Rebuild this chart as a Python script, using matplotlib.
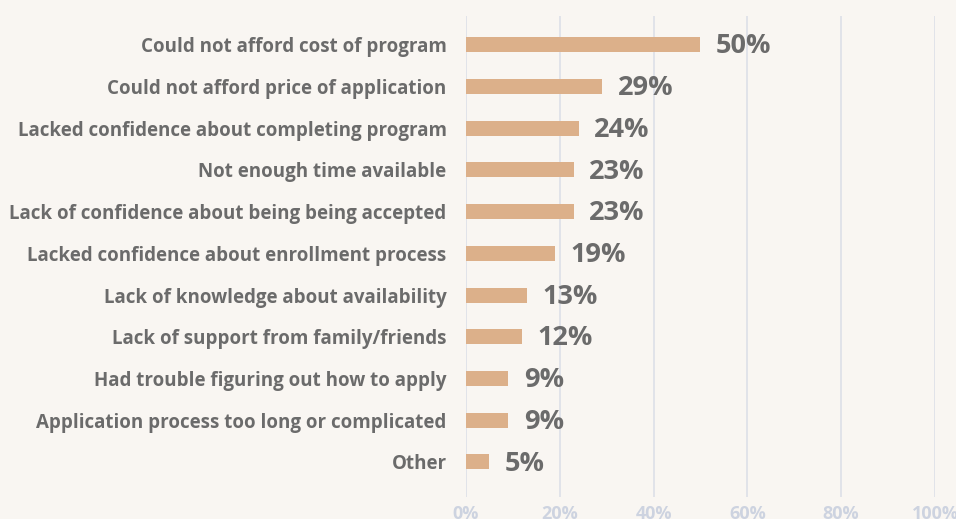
import numpy as np
import matplotlib.pyplot as plt

categories = [
    'Could not afford cost of program',
    'Could not afford price of application',
    'Lacked confidence about completing program',
    'Not enough time available',
    'Lack of confidence about being being accepted',
    'Lacked confidence about enrollment process',
    'Lack of knowledge about availability',
    'Lack of support from family/friends',
    'Had trouble figuring out how to apply',
    'Application process too long or complicated',
    'Other',
]
values = [50, 29, 24, 23, 23, 19, 13, 12, 9, 9, 5]
xticks = [0, 20, 40, 60, 80, 100]

bg = '#f9f6f2'
bar_color = '#dcb08a'
text_color = '#6b6b6b'
tick_color = '#cdd3e0'
grid_color = '#dde0e8'

plt.rcParams['font.family'] = ['Open Sans', 'DejaVu Sans']

fig = plt.figure(figsize=(9.56, 5.19), dpi=100, facecolor=bg)
ax = fig.add_axes([0.4874, 0.0424, 0.4906, 0.9268])
ax.set_facecolor(bg)

y = np.arange(len(categories))
ax.barh(y, values, height=0.36, color=bar_color, zorder=3)

for yi, v in zip(y, values):
    ax.text(v + 3.3, yi + 0.04, f'{v}%', va='center', ha='left',
            fontsize=19.5, fontweight='bold', color=text_color, zorder=4)

ax.set_xlim(0, 100)
ax.set_ylim(10.84, -0.69)
ax.set_xticks(xticks)
ax.set_xticklabels([f'{t}%' for t in xticks], fontsize=13,
                   fontweight='bold', color=tick_color)
ax.set_yticks(y)
ax.set_yticklabels(categories, fontsize=13.5, fontweight='bold',
                   color=text_color)
ax.tick_params(axis='both', length=0)
ax.tick_params(axis='y', pad=14)
ax.tick_params(axis='x', pad=6)
ax.grid(axis='x', color=grid_color, linewidth=1.2, zorder=0)
for s in ax.spines.values():
    s.set_visible(False)

plt.savefig('out.png', dpi=100, facecolor=bg)
